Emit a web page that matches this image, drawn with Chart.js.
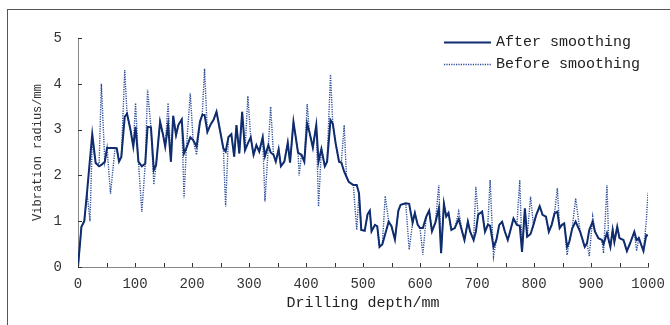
<!DOCTYPE html>
<html>
<head>
<meta charset="utf-8">
<script src="https://cdn.jsdelivr.net/npm/chart.js@4.4.1/dist/chart.umd.min.js"></script>
<style>
  html, body { margin: 0; padding: 0; background: #fff; }
  #wrap { position: relative; width: 670px; height: 325px; overflow: hidden; }
  #frame { position: absolute; left: 7px; top: 9px; width: 700px; height: 400px; border-left: 1px solid #555; border-top: 1px solid #555; }
</style>
</head>
<body>
<div id="wrap">
  <div id="frame"></div>
  <canvas id="radiusChart"></canvas>
</div>
<script>
// profondeur de forage (mm) et rayon de vibration (mm)
const depth = [
  0, 6, 11, 16, 21, 25, 31, 37, 41, 47, 51, 57, 65, 68, 72, 76, 82, 86, 92, 97,
  101, 106, 112, 118, 122, 128, 133, 137, 144, 149, 153, 158, 163, 167, 172, 176, 182, 186, 190, 197,
  202, 208, 214, 218, 222, 227, 233, 238, 243, 249, 255, 259, 264, 269, 274, 278, 283, 288, 293, 298,
  303, 308, 313, 318, 324, 328, 334, 338, 343, 347, 352, 356, 362, 368, 372, 378, 386, 388, 392, 397,
  402, 406, 412, 418, 422, 427, 433, 437, 443, 447, 452, 458, 462, 467, 471, 475, 483, 489, 493, 497,
  503, 508, 512, 515, 521, 525, 529, 534, 539, 545, 550, 556, 562, 566, 575, 581, 587, 591, 596, 600,
  605, 611, 616, 621, 627, 633, 637, 642, 646, 650, 655, 661, 668, 674, 678, 684, 688, 694, 698, 702,
  709, 714, 719, 723, 729, 734, 739, 744, 749, 754, 758, 764, 770, 775, 779, 784, 788, 794, 799, 804,
  810, 815, 821, 826, 831, 836, 841, 845, 849, 853, 858, 862, 867, 873, 881, 889, 893, 897, 903, 907,
  913, 919, 922, 928, 931, 934, 938, 941, 946, 950, 957, 963, 969, 976, 980, 984, 992, 997, 1000
];
const afterSmoothing = [
  0, 0.88, 1.0, 1.65, 2.35, 2.9, 2.27, 2.2, 2.23, 2.3, 2.6, 2.6, 2.6, 2.59, 2.3, 2.4, 3.28, 3.35, 3.0, 2.63,
  3.06, 2.3, 2.2, 2.26, 3.06, 3.05, 2.12, 2.23, 3.17, 2.9, 2.63, 3.1, 2.3, 3.3, 2.88, 3.1, 3.22, 2.48, 2.59, 2.83,
  2.77, 2.63, 3.17, 3.32, 3.32, 2.95, 3.12, 3.22, 3.39, 2.99, 2.59, 2.52, 2.84, 2.9, 2.41, 3.1, 2.48, 3.39, 2.55, 2.7,
  2.83, 2.45, 2.66, 2.52, 2.83, 2.42, 2.66, 2.5, 2.45, 2.3, 2.57, 2.2, 2.3, 2.71, 2.28, 3.17, 2.5, 2.48, 2.45, 2.3,
  3.13, 2.95, 2.61, 3.1, 2.3, 2.58, 2.2, 2.3, 3.21, 3.13, 2.7, 2.3, 2.28, 2.08, 1.97, 1.86, 1.79, 1.79, 1.61, 0.81,
  0.79, 1.15, 1.23, 0.78, 0.92, 0.89, 0.44, 0.5, 0.72, 0.99, 0.89, 0.6, 1.23, 1.36, 1.39, 1.38, 0.97, 1.18, 0.92, 0.85,
  0.85, 1.1, 1.23, 0.78, 0.97, 1.28, 0.3, 1.38, 1.1, 1.18, 0.81, 0.85, 1.05, 0.77, 0.59, 0.99, 0.77, 0.59, 0.77, 1.14,
  1.21, 0.77, 0.92, 0.9, 0.44, 0.59, 0.92, 0.99, 0.77, 0.59, 0.77, 1.06, 0.92, 0.9, 0.33, 1.28, 0.66, 0.72, 0.92, 1.14,
  1.33, 1.14, 1.1, 0.77, 0.92, 1.17, 1.21, 0.85, 0.92, 0.95, 0.44, 0.55, 0.84, 0.99, 0.77, 0.44, 0.52, 0.81, 0.99, 0.77,
  0.63, 0.59, 0.5, 0.74, 0.59, 0.44, 0.81, 0.55, 0.88, 0.63, 0.59, 0.35, 0.53, 0.77, 0.59, 0.63, 0.35, 0.7, 0.68
];
const beforeSmoothing = [
  0, 0.88, 1.0, 1.6, 1.0, 2.75, 2.27, 2.25, 4.0, 2.3, 2.6, 1.6, 2.6, 2.59, 2.3, 2.4, 4.3, 3.35, 3.0, 2.63,
  3.58, 2.3, 1.2, 2.26, 3.87, 3.05, 1.8, 2.23, 3.17, 2.9, 2.63, 3.58, 2.3, 3.3, 2.88, 3.1, 3.22, 1.5, 2.59, 3.79,
  2.77, 2.45, 3.17, 3.32, 4.33, 2.95, 3.12, 3.22, 3.39, 2.99, 2.59, 1.32, 2.84, 2.9, 2.41, 3.1, 2.48, 3.39, 2.55, 3.73,
  2.83, 2.45, 2.66, 2.52, 2.83, 1.43, 2.66, 3.5, 2.45, 2.3, 2.57, 2.2, 2.3, 2.71, 2.28, 3.17, 2.5, 2.0, 2.45, 2.3,
  3.56, 2.95, 2.61, 3.1, 1.32, 2.58, 2.2, 2.3, 4.2, 3.13, 2.7, 2.3, 2.28, 3.1, 1.97, 1.86, 1.79, 0.81, 1.61, 0.81,
  0.79, 1.15, 1.23, 0.78, 0.92, 0.89, 0.44, 0.5, 1.55, 0.99, 0.89, 0.6, 1.23, 1.36, 1.39, 0.38, 0.97, 1.18, 0.92, 0.85,
  0.27, 1.1, 1.23, 0.78, 0.97, 1.79, 0.3, 1.38, 1.1, 1.18, 0.81, 0.85, 1.21, 0.77, 0.59, 0.99, 0.77, 0.59, 1.75, 1.14,
  1.21, 0.77, 0.92, 1.9, 0.23, 0.59, 0.92, 0.99, 0.77, 0.59, 0.77, 1.06, 0.92, 1.9, 0.33, 1.28, 0.66, 1.54, 0.92, 1.14,
  1.33, 1.14, 1.1, 0.77, 0.92, 1.17, 1.72, 0.85, 0.92, 0.95, 0.26, 0.55, 0.84, 1.5, 0.77, 0.44, 0.52, 0.23, 1.1, 0.77,
  0.63, 0.59, 0.3, 1.79, 0.59, 0.44, 0.81, 0.55, 0.88, 0.63, 0.59, 0.35, 0.53, 0.77, 0.35, 0.63, 0.35, 1.0, 1.62
];
const yTicks = [0, 1, 2, 3, 4, 5];

const monoFont = "'Liberation Mono', 'DejaVu Sans Mono', monospace";
const navy = '#0f2c6e';

// petites graduations tournées vers l'intérieur, comme sur la figure
const innerTicks = {
    id: 'innerTicks',
    afterDraw(chart) {
        const ctx = chart.ctx;
        const xs = chart.scales.x, ys = chart.scales.y;
        ctx.save();
        ctx.strokeStyle = '#333';
        ctx.lineWidth = 1;
        ctx.beginPath();
        for (let v = xs.min; v <= xs.max; v += 50) {
            const px = Math.round(xs.getPixelForValue(v)) + 0.5;
            ctx.moveTo(px, ys.bottom);
            ctx.lineTo(px, ys.bottom - 4);
        }
        yTicks.forEach(v => {
            const py = Math.round(ys.getPixelForValue(v)) + 0.5;
            ctx.moveTo(xs.left, py);
            ctx.lineTo(xs.left + 4, py);
        });
        ctx.stroke();
        ctx.restore();
    }
};

// légende dessinée dans la zone du graphique, en haut à droite
const insideLegend = {
    id: 'insideLegend',
    afterDraw(chart) {
        const ctx = chart.ctx;
        ctx.save();
        ctx.font = '15px ' + monoFont;
        ctx.textBaseline = 'middle';
        chart.data.datasets.forEach((ds, i) => {
            const y = Math.round(42 + i * 21.5) + 0.5;
            ctx.strokeStyle = ds.borderColor;
            ctx.lineWidth = ds.borderWidth;
            ctx.setLineDash(ds.borderDash || []);
            ctx.beginPath();
            ctx.moveTo(444, y);
            ctx.lineTo(491, y);
            ctx.stroke();
            ctx.setLineDash([]);
            ctx.fillStyle = '#222';
            ctx.fillText(ds.label, 496, y);
        });
        ctx.restore();
    }
};

new Chart(document.getElementById('radiusChart'), {
    type: 'line',
    data: {
        datasets: [{
            label: 'After smoothing',
            data: depth.map((d, i) => ({ x: d, y: afterSmoothing[i] })),
            borderColor: navy,
            borderWidth: 2,
            pointRadius: 0,
            tension: 0
        }, {
            label: 'Before smoothing',
            data: depth.map((d, i) => ({ x: d, y: beforeSmoothing[i] })),
            borderColor: '#2a4a96',
            borderWidth: 1.4,
            borderDash: [1.2, 1.2],
            pointRadius: 0,
            tension: 0
        }]
    },
    options: {
        responsive: true,
        maintainAspectRatio: false,
        animation: false,
        layout: { padding: { left: 0, top: 38, right: 0, bottom: 0 } },
        plugins: { legend: { display: false }, tooltip: { enabled: false } },
        scales: {
            x: {
                type: 'linear',
                min: 0,
                max: 1000,
                afterFit: s => { s.height = 58; s.paddingLeft = 0; s.paddingRight = 22; },
                ticks: { stepSize: 100, maxRotation: 0, padding: 9, color: '#333', font: { family: monoFont, size: 14 }, callback: v => String(v) },
                grid: { drawOnChartArea: false, drawTicks: false },
                border: { display: true, color: '#888', width: 1 },
                title: { display: true, text: 'Drilling depth/mm', color: '#222', padding: { top: 0, bottom: 13 }, font: { family: monoFont, size: 15 } }
            },
            y: {
                min: 0,
                max: 5,
                afterFit: s => { s.width = 78; s.paddingTop = 0; s.paddingBottom = 0; },
                ticks: { stepSize: 1, padding: 16, color: '#333', font: { family: monoFont, size: 14 }, callback: v => String(v) },
                grid: { drawOnChartArea: false, drawTicks: false },
                border: { display: true, color: '#888', width: 1 },
                title: { display: true, text: 'Vibration radius/mm', color: '#333', padding: { top: 31, bottom: 0 }, font: { family: monoFont, size: 12 } }
            }
        }
    },
    plugins: [innerTicks, insideLegend]
});
</script>
</body>
</html>
